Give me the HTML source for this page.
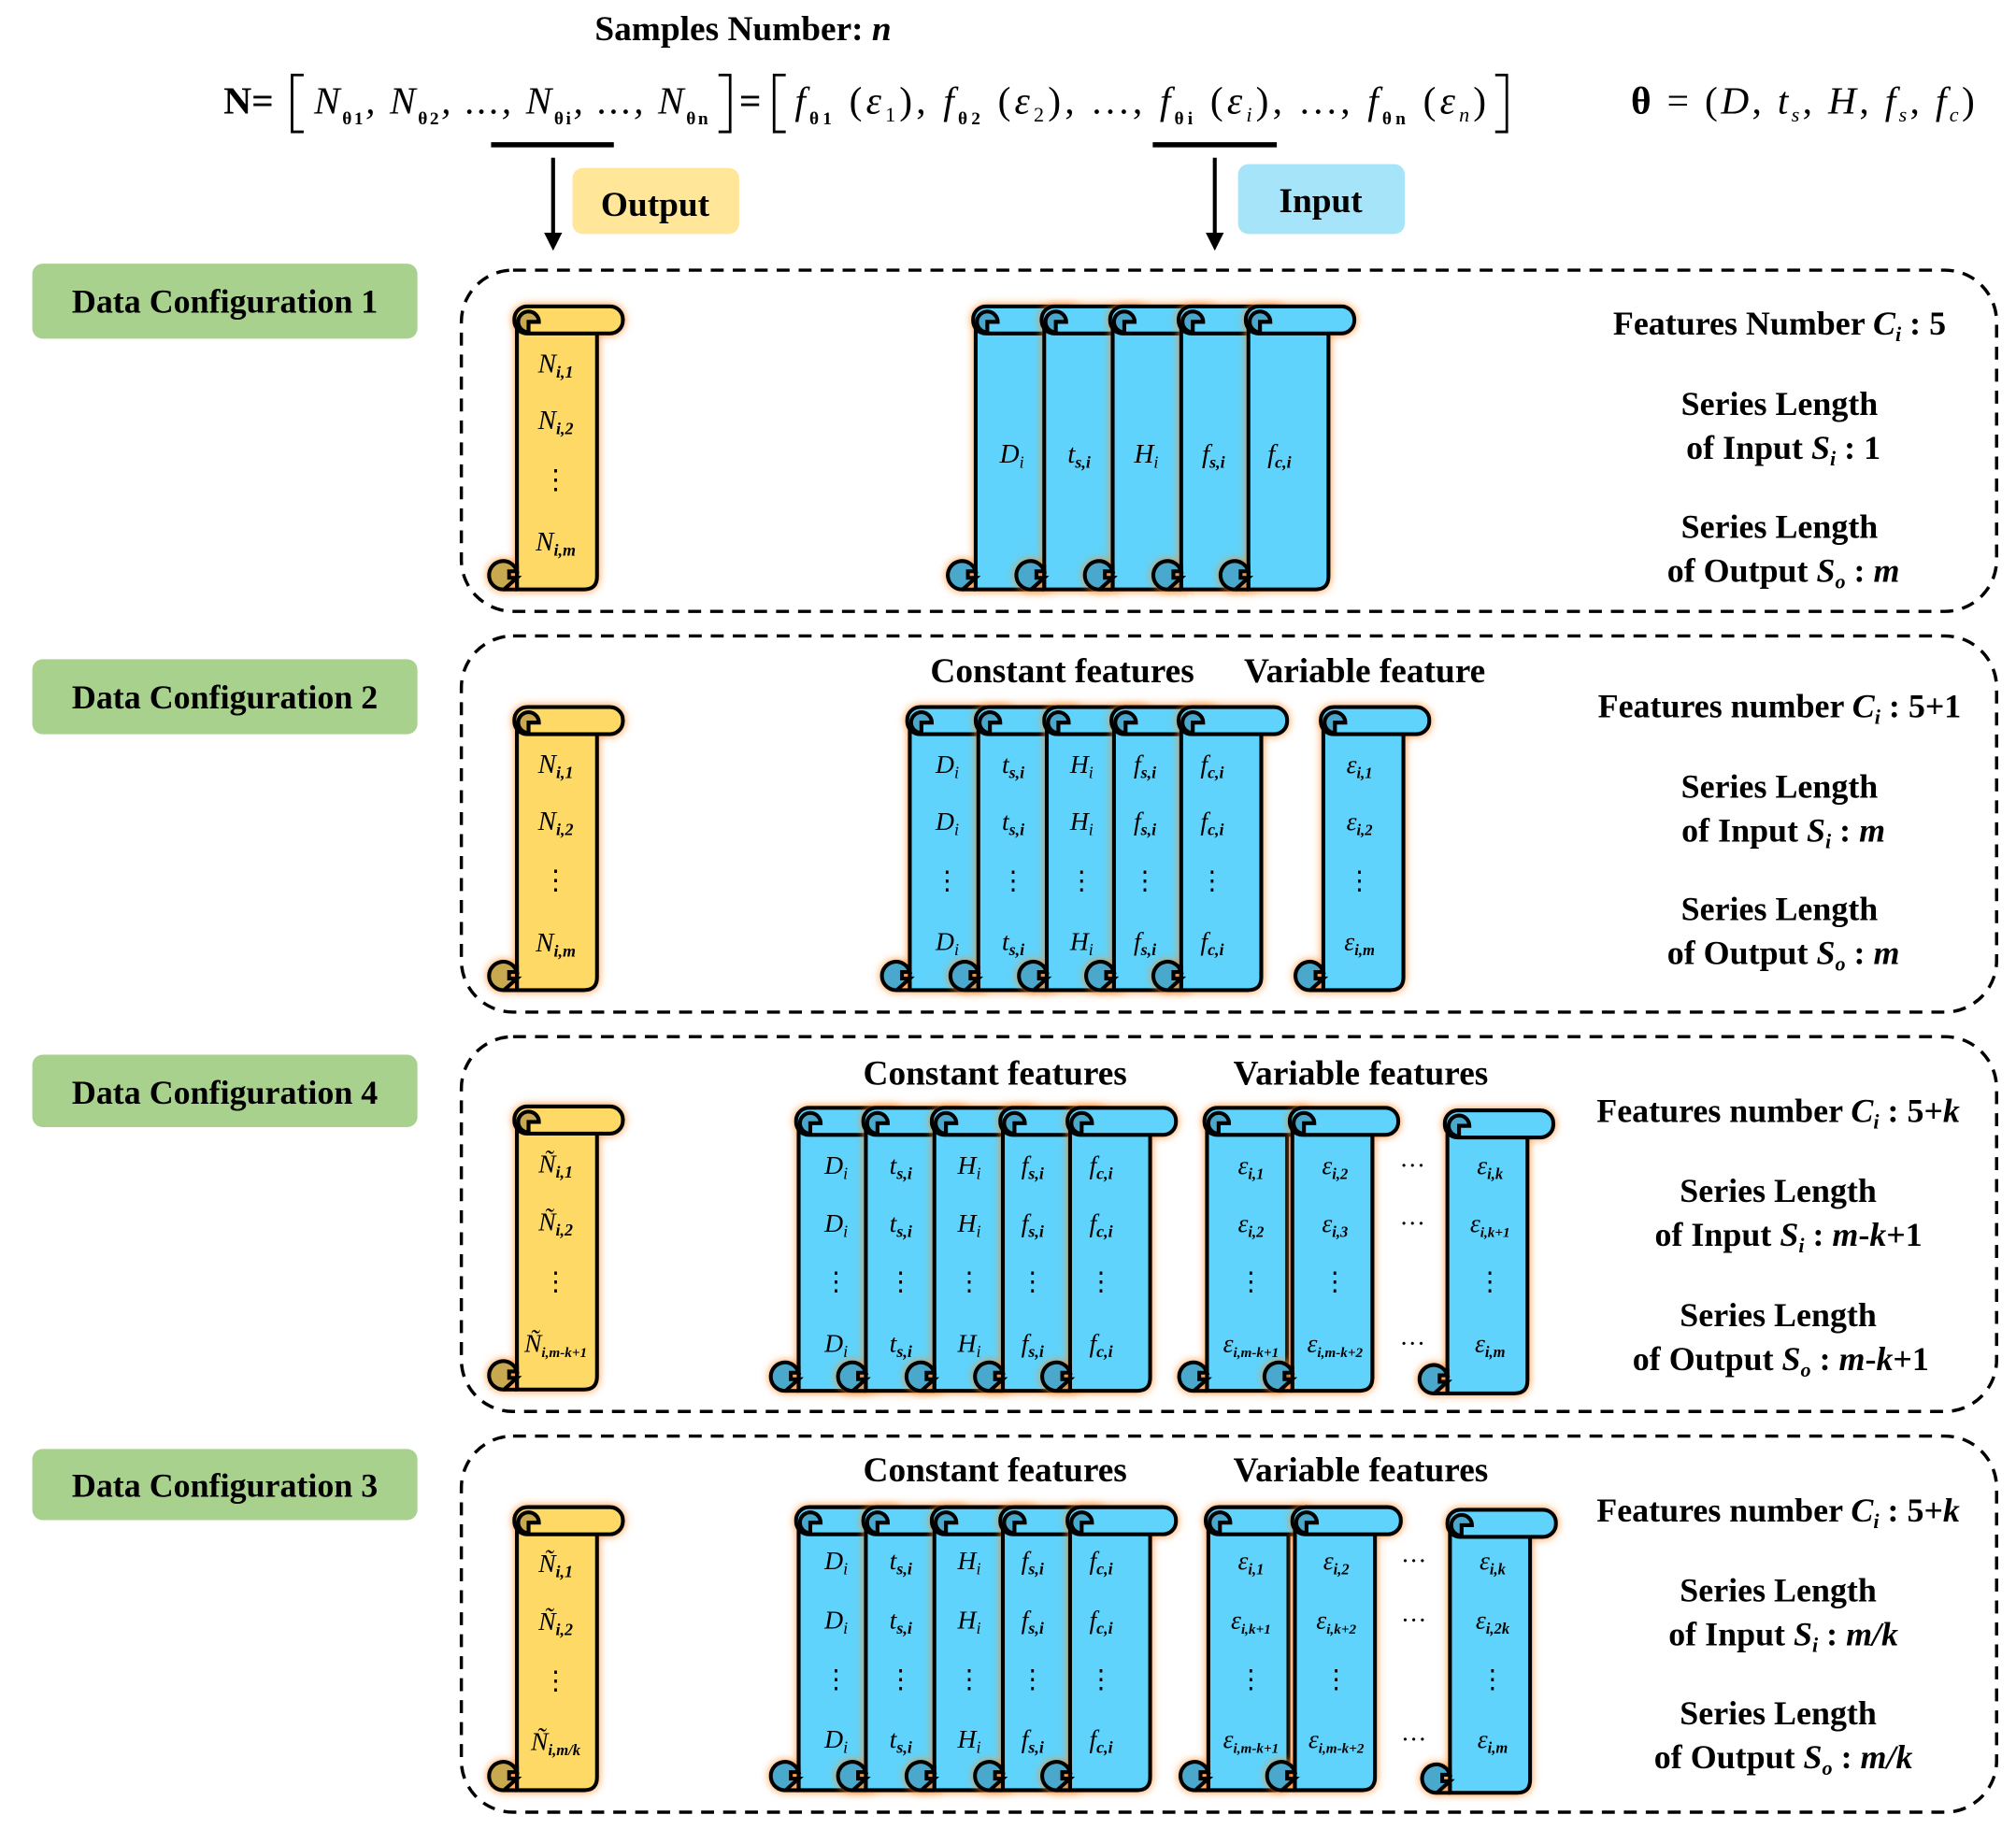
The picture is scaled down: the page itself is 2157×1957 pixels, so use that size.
<!DOCTYPE html>
<html><head><meta charset="utf-8"><style>
html,body{margin:0;padding:0;background:#fff}
svg{display:block}
text{font-family:"Liberation Serif",serif}
.b{font-weight:bold}
.i{font-style:italic}
</style></head><body>
<svg width="2157" height="1957" viewBox="0 0 1560 1415" preserveAspectRatio="none" xmlns="http://www.w3.org/2000/svg">
<defs>
<filter id="g" x="-40%" y="-20%" width="180%" height="140%">
<feDropShadow dx="0" dy="0" stdDeviation="3" flood-color="#ff8a2a" flood-opacity="0.9"/>
</filter>
<symbol id="Y" overflow="visible">
<g filter="url(#g)" stroke="#000" stroke-width="3">
<path d="M0,12 L0,219 L52,219 Q62,219 62,209 L62,18 Z" fill="#ffd966"/>
<rect x="-2" y="0" width="84" height="21" rx="10" fill="#ffd966"/>
<path d="M9,20 A8,8 0 1 1 17,12 L9,12 Z" fill="#c9a94f"/>
<path d="M-10,219 A11,11 0 1 1 0,205 L-6,205 L-6,210 L0,210 Z" fill="#c9a94f"/>
<path d="M-10,219 L0,219 M0,200 L0,219" fill="none"/>
</g>
</symbol>
<symbol id="B" overflow="visible">
<g filter="url(#g)" stroke="#000" stroke-width="3">
<path d="M0,12 L0,219 L52,219 Q62,219 62,209 L62,18 Z" fill="#5fd3fb"/>
<rect x="-2" y="0" width="84" height="21" rx="10" fill="#5fd3fb"/>
<path d="M9,20 A8,8 0 1 1 17,12 L9,12 Z" fill="#4aa8cb"/>
<path d="M-10,219 A11,11 0 1 1 0,205 L-6,205 L-6,210 L0,210 Z" fill="#4aa8cb"/>
<path d="M-10,219 L0,219 M0,200 L0,219" fill="none"/>
</g>
</symbol>
</defs>

<!-- top -->
<text x="575" y="31" font-size="27" class="b" text-anchor="middle">Samples Number: <tspan class="i">n</tspan></text>
<text x="173" y="88" font-size="30" class="b">N=</text>
<path d="M235,58 H226 V102 H235 M556,58 H565 V102 H556 M608,58 H599 V102 H608 M1157,58 H1166 V102 H1157" fill="none" stroke="#000" stroke-width="2"/>
<text x="572" y="88" font-size="30" class="b">=</text>
<text x="243" y="88" font-size="30" class="i" textLength="305">N<tspan font-size="14" dy="8" font-style="normal" font-weight="bold">θ1</tspan><tspan dy="-8">, N</tspan><tspan font-size="14" dy="8" font-style="normal" font-weight="bold">θ2</tspan><tspan dy="-8">, ..., N</tspan><tspan font-size="14" dy="8" font-style="normal" font-weight="bold">θi</tspan><tspan dy="-8">, ..., N</tspan><tspan font-size="14" dy="8" font-style="normal" font-weight="bold">θn</tspan></text>
<text x="615" y="88" font-size="30" class="i" textLength="535">f<tspan font-size="14" dy="8" font-style="normal" font-weight="bold">θ1</tspan><tspan dy="-8" font-style="normal"> (</tspan>ε<tspan font-size="16" dy="6" font-style="normal">1</tspan><tspan dy="-6" font-style="normal">), </tspan>f<tspan font-size="14" dy="8" font-style="normal" font-weight="bold">θ2</tspan><tspan dy="-8" font-style="normal"> (</tspan>ε<tspan font-size="16" dy="6" font-style="normal">2</tspan><tspan dy="-6" font-style="normal">), ..., </tspan>f<tspan font-size="14" dy="8" font-style="normal" font-weight="bold">θi</tspan><tspan dy="-8" font-style="normal"> (</tspan>ε<tspan font-size="16" dy="6">i</tspan><tspan dy="-6" font-style="normal">), ..., </tspan>f<tspan font-size="14" dy="8" font-style="normal" font-weight="bold">θn</tspan><tspan dy="-8" font-style="normal"> (</tspan>ε<tspan font-size="16" dy="6">n</tspan><tspan dy="-6" font-style="normal">)</tspan></text>
<text x="1262" y="88" font-size="30" textLength="266"><tspan class="b">θ</tspan> = (<tspan class="i">D</tspan>, <tspan class="i">t</tspan><tspan font-size="16" dy="6" class="i">s</tspan><tspan dy="-6">, </tspan><tspan class="i">H</tspan>, <tspan class="i">f</tspan><tspan font-size="16" dy="6" class="i">s</tspan><tspan dy="-6">, </tspan><tspan class="i">f</tspan><tspan font-size="16" dy="6" class="i">c</tspan><tspan dy="-6">)</tspan></text>

<rect x="380" y="110" width="95" height="4" fill="#000"/>
<rect x="892" y="110" width="96" height="4" fill="#000"/>
<path d="M428,122 V182 M940,122 V182" stroke="#000" stroke-width="3"/>
<path d="M421,180 L428,194 L435,180 Z M933,180 L940,194 L947,180 Z" fill="#000"/>
<rect x="443" y="130" width="129" height="51" rx="8" fill="#ffe699"/>
<text x="507" y="167" font-size="27" class="b" text-anchor="middle">Output</text>
<rect x="958" y="127" width="129" height="54" rx="8" fill="#a6e4fa"/>
<text x="1022" y="164" font-size="27" class="b" text-anchor="middle">Input</text>

<!-- labels -->
<g font-size="26" class="b" text-anchor="middle">
<rect x="25" y="204" width="298" height="58" rx="8" fill="#a9d18e"/><text x="174" y="242">Data Configuration 1</text>
<rect x="25" y="510" width="298" height="58" rx="8" fill="#a9d18e"/><text x="174" y="548">Data Configuration 2</text>
<rect x="25" y="816" width="298" height="56" rx="8" fill="#a9d18e"/><text x="174" y="854">Data Configuration 4</text>
<rect x="25" y="1121" width="298" height="55" rx="8" fill="#a9d18e"/><text x="174" y="1158">Data Configuration 3</text>
</g>

<g fill="none" stroke="#000" stroke-width="2.5" stroke-dasharray="10,7">
<rect x="357" y="209" width="1188" height="264" rx="40"/>
<rect x="357" y="492" width="1188" height="291" rx="40"/>
<rect x="357" y="802" width="1188" height="290" rx="40"/>
<rect x="357" y="1111" width="1188" height="291" rx="40"/>
</g>

<!-- config 1 -->
<use href="#Y" x="400" y="237"/>
<use href="#B" x="755" y="237"/><use href="#B" x="808" y="237"/><use href="#B" x="861" y="237"/><use href="#B" x="914" y="237"/><use href="#B" x="966" y="237"/>
<!-- config 2 -->
<use href="#Y" x="400" y="547"/>
<use href="#B" x="704" y="547"/><use href="#B" x="757" y="547"/><use href="#B" x="810" y="547"/><use href="#B" x="862" y="547"/><use href="#B" x="914" y="547"/>
<use href="#B" x="1024" y="547"/>
<!-- config 4 -->
<use href="#Y" x="400" y="856"/>
<use href="#B" x="618" y="857"/><use href="#B" x="670" y="857"/><use href="#B" x="723" y="857"/><use href="#B" x="776" y="857"/><use href="#B" x="828" y="857"/>
<use href="#B" x="934" y="857"/><use href="#B" x="1000" y="857"/><use href="#B" x="1120" y="859"/>
<!-- config 3 -->
<use href="#Y" x="400" y="1166"/>
<use href="#B" x="618" y="1166"/><use href="#B" x="670" y="1166"/><use href="#B" x="723" y="1166"/><use href="#B" x="776" y="1166"/><use href="#B" x="828" y="1166"/>
<use href="#B" x="935" y="1166"/><use href="#B" x="1002" y="1166"/><use href="#B" x="1122" y="1168"/>

<!-- scroll texts -->
<g font-size="21" class="i" text-anchor="middle">
<text x="430" y="288">N<tspan font-size="13" dy="4" class="b">i,1</tspan></text>
<text x="430" y="332">N<tspan font-size="13" dy="4" class="b">i,2</tspan></text>
<text x="430" y="378" font-style="normal">⋮</text>
<text x="430" y="426">N<tspan font-size="13" dy="4" class="b">i,m</tspan></text>
<text x="783" y="358">D<tspan font-size="13" dy="4">i</tspan></text>
<text x="835" y="358">t<tspan font-size="13" dy="4" class="b">s,i</tspan></text>
<text x="887" y="358">H<tspan font-size="13" dy="4">i</tspan></text>
<text x="939" y="358">f<tspan font-size="13" dy="4" class="b">s,i</tspan></text>
<text x="990" y="358">f<tspan font-size="13" dy="4" class="b">c,i</tspan></text>

<text x="430" y="598">N<tspan font-size="13" dy="4" class="b">i,1</tspan></text>
<text x="430" y="642">N<tspan font-size="13" dy="4" class="b">i,2</tspan></text>
<text x="430" y="688" font-style="normal">⋮</text>
<text x="430" y="736">N<tspan font-size="13" dy="4" class="b">i,m</tspan></text>
</g>
<g font-size="20" class="i" text-anchor="middle">
<text x="733" y="598">D<tspan font-size="13" dy="4">i</tspan></text><text x="733" y="642">D<tspan font-size="13" dy="4">i</tspan></text><text x="733" y="688" font-style="normal">⋮</text><text x="733" y="735">D<tspan font-size="13" dy="4">i</tspan></text>
<text x="784" y="598">t<tspan font-size="13" dy="4" class="b">s,i</tspan></text><text x="784" y="642">t<tspan font-size="13" dy="4" class="b">s,i</tspan></text><text x="784" y="688" font-style="normal">⋮</text><text x="784" y="735">t<tspan font-size="13" dy="4" class="b">s,i</tspan></text>
<text x="837" y="598">H<tspan font-size="13" dy="4">i</tspan></text><text x="837" y="642">H<tspan font-size="13" dy="4">i</tspan></text><text x="837" y="688" font-style="normal">⋮</text><text x="837" y="735">H<tspan font-size="13" dy="4">i</tspan></text>
<text x="886" y="598">f<tspan font-size="13" dy="4" class="b">s,i</tspan></text><text x="886" y="642">f<tspan font-size="13" dy="4" class="b">s,i</tspan></text><text x="886" y="688" font-style="normal">⋮</text><text x="886" y="735">f<tspan font-size="13" dy="4" class="b">s,i</tspan></text>
<text x="938" y="598">f<tspan font-size="13" dy="4" class="b">c,i</tspan></text><text x="938" y="642">f<tspan font-size="13" dy="4" class="b">c,i</tspan></text><text x="938" y="688" font-style="normal">⋮</text><text x="938" y="735">f<tspan font-size="13" dy="4" class="b">c,i</tspan></text>
<text x="1052" y="598">ε<tspan font-size="12" dy="4" class="b">i,1</tspan></text><text x="1052" y="642">ε<tspan font-size="12" dy="4" class="b">i,2</tspan></text><text x="1052" y="688" font-style="normal">⋮</text><text x="1052" y="735">ε<tspan font-size="12" dy="4" class="b">i,m</tspan></text>
</g>

<!-- config 4 & 3 texts -->
<g font-size="20" class="i" text-anchor="middle">
<text x="430" y="907">Ñ<tspan font-size="13" dy="4" class="b">i,1</tspan></text>
<text x="430" y="952">Ñ<tspan font-size="13" dy="4" class="b">i,2</tspan></text>
<text x="430" y="998" font-style="normal">⋮</text>
<text x="430" y="1046">Ñ<tspan font-size="11" dy="4" class="b">i,m-k+1</tspan></text>
<text x="430" y="1216">Ñ<tspan font-size="13" dy="4" class="b">i,1</tspan></text>
<text x="430" y="1261">Ñ<tspan font-size="13" dy="4" class="b">i,2</tspan></text>
<text x="430" y="1307" font-style="normal">⋮</text>
<text x="430" y="1354">Ñ<tspan font-size="12" dy="4" class="b">i,m/k</tspan></text>

<text x="647" y="908">D<tspan font-size="13" dy="4">i</tspan></text><text x="647" y="953">D<tspan font-size="13" dy="4">i</tspan></text><text x="647" y="998" font-style="normal">⋮</text><text x="647" y="1046">D<tspan font-size="13" dy="4">i</tspan></text>
<text x="697" y="908">t<tspan font-size="13" dy="4" class="b">s,i</tspan></text><text x="697" y="953">t<tspan font-size="13" dy="4" class="b">s,i</tspan></text><text x="697" y="998" font-style="normal">⋮</text><text x="697" y="1046">t<tspan font-size="13" dy="4" class="b">s,i</tspan></text>
<text x="750" y="908">H<tspan font-size="13" dy="4">i</tspan></text><text x="750" y="953">H<tspan font-size="13" dy="4">i</tspan></text><text x="750" y="998" font-style="normal">⋮</text><text x="750" y="1046">H<tspan font-size="13" dy="4">i</tspan></text>
<text x="799" y="908">f<tspan font-size="13" dy="4" class="b">s,i</tspan></text><text x="799" y="953">f<tspan font-size="13" dy="4" class="b">s,i</tspan></text><text x="799" y="998" font-style="normal">⋮</text><text x="799" y="1046">f<tspan font-size="13" dy="4" class="b">s,i</tspan></text>
<text x="852" y="908">f<tspan font-size="13" dy="4" class="b">c,i</tspan></text><text x="852" y="953">f<tspan font-size="13" dy="4" class="b">c,i</tspan></text><text x="852" y="998" font-style="normal">⋮</text><text x="852" y="1046">f<tspan font-size="13" dy="4" class="b">c,i</tspan></text>
<text x="968" y="908">ε<tspan font-size="12" dy="4" class="b">i,1</tspan></text><text x="968" y="953">ε<tspan font-size="12" dy="4" class="b">i,2</tspan></text><text x="968" y="998" font-style="normal">⋮</text><text x="968" y="1046">ε<tspan font-size="11" dy="4" class="b">i,m-k+1</tspan></text>
<text x="1033" y="908">ε<tspan font-size="12" dy="4" class="b">i,2</tspan></text><text x="1033" y="953">ε<tspan font-size="12" dy="4" class="b">i,3</tspan></text><text x="1033" y="998" font-style="normal">⋮</text><text x="1033" y="1046">ε<tspan font-size="11" dy="4" class="b">i,m-k+2</tspan></text>
<text x="1153" y="908">ε<tspan font-size="12" dy="4" class="b">i,k</tspan></text><text x="1153" y="953">ε<tspan font-size="11" dy="4" class="b">i,k+1</tspan></text><text x="1153" y="998" font-style="normal">⋮</text><text x="1153" y="1046">ε<tspan font-size="12" dy="4" class="b">i,m</tspan></text>
<text x="1093" y="908" font-style="normal">···</text><text x="1093" y="953" font-style="normal">···</text><text x="1093" y="1046" font-style="normal">···</text>

<text x="647" y="1214">D<tspan font-size="13" dy="4">i</tspan></text><text x="647" y="1260">D<tspan font-size="13" dy="4">i</tspan></text><text x="647" y="1306" font-style="normal">⋮</text><text x="647" y="1352">D<tspan font-size="13" dy="4">i</tspan></text>
<text x="697" y="1214">t<tspan font-size="13" dy="4" class="b">s,i</tspan></text><text x="697" y="1260">t<tspan font-size="13" dy="4" class="b">s,i</tspan></text><text x="697" y="1306" font-style="normal">⋮</text><text x="697" y="1352">t<tspan font-size="13" dy="4" class="b">s,i</tspan></text>
<text x="750" y="1214">H<tspan font-size="13" dy="4">i</tspan></text><text x="750" y="1260">H<tspan font-size="13" dy="4">i</tspan></text><text x="750" y="1306" font-style="normal">⋮</text><text x="750" y="1352">H<tspan font-size="13" dy="4">i</tspan></text>
<text x="799" y="1214">f<tspan font-size="13" dy="4" class="b">s,i</tspan></text><text x="799" y="1260">f<tspan font-size="13" dy="4" class="b">s,i</tspan></text><text x="799" y="1306" font-style="normal">⋮</text><text x="799" y="1352">f<tspan font-size="13" dy="4" class="b">s,i</tspan></text>
<text x="852" y="1214">f<tspan font-size="13" dy="4" class="b">c,i</tspan></text><text x="852" y="1260">f<tspan font-size="13" dy="4" class="b">c,i</tspan></text><text x="852" y="1306" font-style="normal">⋮</text><text x="852" y="1352">f<tspan font-size="13" dy="4" class="b">c,i</tspan></text>
<text x="968" y="1214">ε<tspan font-size="12" dy="4" class="b">i,1</tspan></text><text x="968" y="1260">ε<tspan font-size="11" dy="4" class="b">i,k+1</tspan></text><text x="968" y="1306" font-style="normal">⋮</text><text x="968" y="1352">ε<tspan font-size="11" dy="4" class="b">i,m-k+1</tspan></text>
<text x="1034" y="1214">ε<tspan font-size="12" dy="4" class="b">i,2</tspan></text><text x="1034" y="1260">ε<tspan font-size="11" dy="4" class="b">i,k+2</tspan></text><text x="1034" y="1306" font-style="normal">⋮</text><text x="1034" y="1352">ε<tspan font-size="11" dy="4" class="b">i,m-k+2</tspan></text>
<text x="1155" y="1214">ε<tspan font-size="12" dy="4" class="b">i,k</tspan></text><text x="1155" y="1260">ε<tspan font-size="12" dy="4" class="b">i,2k</tspan></text><text x="1155" y="1306" font-style="normal">⋮</text><text x="1155" y="1352">ε<tspan font-size="12" dy="4" class="b">i,m</tspan></text>
<text x="1094" y="1214" font-style="normal">···</text><text x="1094" y="1260" font-style="normal">···</text><text x="1094" y="1352" font-style="normal">···</text>
</g>

<!-- headers -->
<g font-size="27" class="b" text-anchor="middle">
<text x="822" y="528">Constant features</text><text x="1056" y="528">Variable feature</text>
<text x="770" y="839">Constant features</text><text x="1053" y="839">Variable features</text>
<text x="770" y="1146">Constant features</text><text x="1053" y="1146">Variable features</text>
</g>

<!-- right texts -->
<g font-size="26" class="b" text-anchor="middle">
<text x="1377" y="259">Features Number <tspan class="i">C</tspan><tspan class="i" font-size="16" dy="5">i</tspan><tspan dy="-5"> : 5</tspan></text>
<text x="1377" y="321">Series Length</text>
<text x="1380" y="355">of Input <tspan class="i">S</tspan><tspan class="i" font-size="16" dy="5">i</tspan><tspan dy="-5"> : 1</tspan></text>
<text x="1377" y="416">Series Length</text>
<text x="1380" y="450">of Output <tspan class="i">S</tspan><tspan class="i" font-size="16" dy="5">o</tspan><tspan dy="-5"> : </tspan><tspan class="i">m</tspan></text>

<text x="1377" y="555">Features number <tspan class="i">C</tspan><tspan class="i" font-size="16" dy="5">i</tspan><tspan dy="-5"> : 5+1</tspan></text>
<text x="1377" y="617">Series Length</text>
<text x="1380" y="651">of Input <tspan class="i">S</tspan><tspan class="i" font-size="16" dy="5">i</tspan><tspan dy="-5"> : </tspan><tspan class="i">m</tspan></text>
<text x="1377" y="712">Series Length</text>
<text x="1380" y="746">of Output <tspan class="i">S</tspan><tspan class="i" font-size="16" dy="5">o</tspan><tspan dy="-5"> : </tspan><tspan class="i">m</tspan></text>

<text x="1376" y="868">Features number <tspan class="i">C</tspan><tspan class="i" font-size="16" dy="5">i</tspan><tspan dy="-5"> : 5+</tspan><tspan class="i">k</tspan></text>
<text x="1376" y="930">Series Length</text>
<text x="1384" y="964">of Input <tspan class="i">S</tspan><tspan class="i" font-size="16" dy="5">i</tspan><tspan dy="-5"> : </tspan><tspan class="i">m</tspan>-<tspan class="i">k</tspan>+1</text>
<text x="1376" y="1026">Series Length</text>
<text x="1378" y="1060">of Output <tspan class="i">S</tspan><tspan class="i" font-size="16" dy="5">o</tspan><tspan dy="-5"> : </tspan><tspan class="i">m</tspan>-<tspan class="i">k</tspan>+1</text>

<text x="1376" y="1177">Features number <tspan class="i">C</tspan><tspan class="i" font-size="16" dy="5">i</tspan><tspan dy="-5"> : 5+</tspan><tspan class="i">k</tspan></text>
<text x="1376" y="1239">Series Length</text>
<text x="1380" y="1273">of Input <tspan class="i">S</tspan><tspan class="i" font-size="16" dy="5">i</tspan><tspan dy="-5"> : </tspan><tspan class="i">m/k</tspan></text>
<text x="1376" y="1334">Series Length</text>
<text x="1380" y="1368">of Output <tspan class="i">S</tspan><tspan class="i" font-size="16" dy="5">o</tspan><tspan dy="-5"> : </tspan><tspan class="i">m/k</tspan></text>
</g>
</svg>
</body></html>
